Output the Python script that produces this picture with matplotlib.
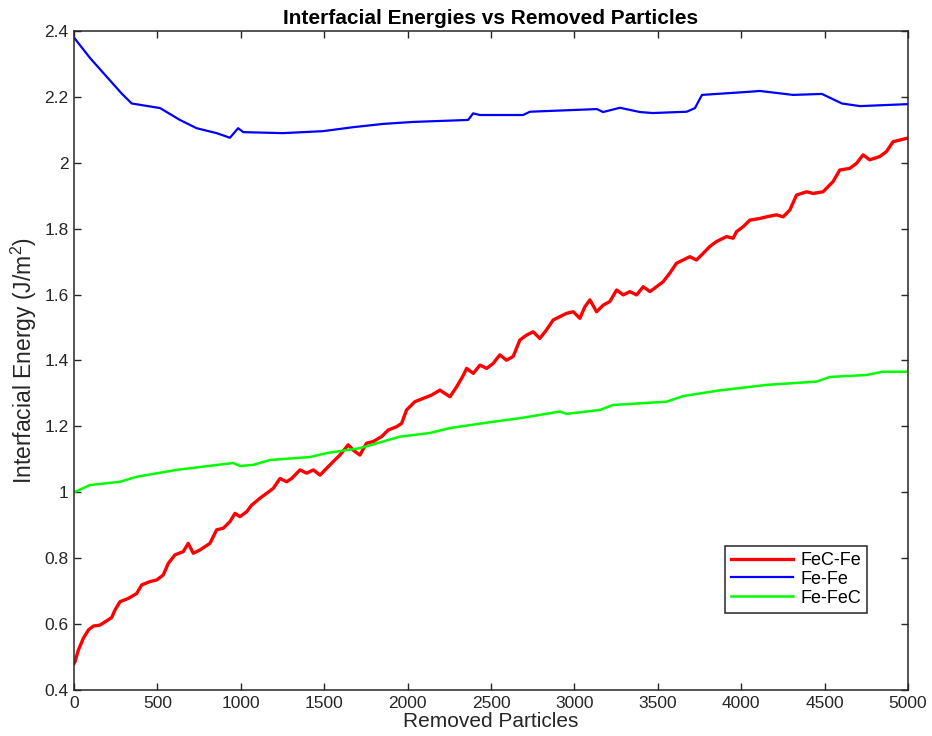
import matplotlib
matplotlib.use("Agg")
import matplotlib.pyplot as plt

plt.rcParams['font.family'] = ['Liberation Sans', 'DejaVu Sans']
plt.rcParams['mathtext.fontset'] = 'custom'
plt.rcParams['mathtext.rm'] = 'Liberation Sans'

# FeC-Fe (red)
fecfe_x = [0, 6, 26, 56, 86, 116, 156, 196, 226, 246, 276, 326, 376, 406, 456, 496, 535,
           565, 605, 655, 685, 715, 755, 785, 815, 855, 895, 915, 935, 965, 995, 1035,
           1065, 1115, 1155, 1195, 1235, 1275, 1305, 1355, 1395, 1435, 1475, 1515, 1554,
           1594, 1644, 1674, 1714, 1754, 1794, 1844, 1884, 1934, 1964, 1994, 2044, 2094,
           2144, 2194, 2254, 2294, 2334, 2354, 2394, 2434, 2474, 2513, 2553, 2593, 2633,
           2673, 2713, 2753, 2793, 2833, 2873, 2913, 2953, 2993, 3033, 3063, 3093, 3133,
           3173, 3213, 3253, 3293, 3333, 3373, 3413, 3453, 3493, 3532, 3572, 3612, 3652,
           3692, 3732, 3772, 3812, 3852, 3912, 3952, 3972, 4012, 4052, 4112, 4152, 4212,
           4252, 4292, 4332, 4392, 4432, 4491, 4551, 4591, 4651, 4691, 4731, 4771, 4831,
           4871, 4911, 4951, 5000]
fecfe_y = [0.48, 0.486, 0.521, 0.557, 0.582, 0.594, 0.597, 0.610, 0.620, 0.643, 0.668,
           0.678, 0.693, 0.719, 0.729, 0.734, 0.749, 0.784, 0.810, 0.820, 0.845, 0.815,
           0.825, 0.835, 0.845, 0.886, 0.891, 0.901, 0.911, 0.936, 0.926, 0.941, 0.961,
           0.982, 0.997, 1.012, 1.042, 1.032, 1.042, 1.068, 1.058, 1.068, 1.052, 1.073,
           1.093, 1.113, 1.144, 1.128, 1.113, 1.149, 1.154, 1.169, 1.189, 1.199, 1.209,
           1.250, 1.275, 1.285, 1.295, 1.310, 1.290, 1.320, 1.355, 1.376, 1.361, 1.386,
           1.376, 1.391, 1.417, 1.401, 1.412, 1.462, 1.477, 1.487, 1.467, 1.493, 1.523,
           1.533, 1.543, 1.548, 1.528, 1.563, 1.584, 1.548, 1.568, 1.579, 1.614, 1.599,
           1.609, 1.599, 1.624, 1.609, 1.624, 1.639, 1.665, 1.695, 1.705, 1.715, 1.705,
           1.725, 1.746, 1.761, 1.776, 1.771, 1.791, 1.806, 1.826, 1.831, 1.836, 1.842,
           1.836, 1.857, 1.902, 1.912, 1.907, 1.912, 1.943, 1.978, 1.983, 1.998, 2.024,
           2.009, 2.019, 2.034, 2.064, 2.069, 2.075]

# Fe-Fe (blue)
fefe_x = [0, 96, 286, 346, 516, 635, 735, 855, 935, 984, 1015, 1253, 1493, 1673, 1853,
          2033, 2363, 2393, 2434, 2692, 2734, 3135, 3172, 3273, 3393, 3471, 3674, 3723,
          3765, 4034, 4112, 4311, 4484, 4604, 4712, 5000]
fefe_y = [2.38, 2.318, 2.21, 2.18, 2.166, 2.13, 2.105, 2.09, 2.076, 2.105, 2.093, 2.09,
          2.096, 2.108, 2.118, 2.124, 2.13, 2.15, 2.145, 2.145, 2.155, 2.163, 2.154,
          2.167, 2.154, 2.151, 2.155, 2.166, 2.206, 2.215, 2.218, 2.206, 2.209, 2.18,
          2.172, 2.178]

# Fe-FeC (green)
fefec_x = [0, 96, 276, 375, 615, 954, 995, 1073, 1175, 1415, 1515, 1715, 1955, 2134,
           2254, 2512, 2674, 2914, 2954, 3154, 3232, 3553, 3652, 3853, 4153, 4453, 4532,
           4752, 4850, 5000]
fefec_y = [1.0, 1.022, 1.032, 1.047, 1.068, 1.089, 1.08, 1.083, 1.098, 1.107, 1.119,
           1.134, 1.169, 1.18, 1.195, 1.214, 1.225, 1.245, 1.238, 1.25, 1.265, 1.275,
           1.292, 1.308, 1.326, 1.336, 1.35, 1.356, 1.366, 1.366]

xticks = [0, 500, 1000, 1500, 2000, 2500, 3000, 3500, 4000, 4500, 5000]
yticks = [0.4, 0.6, 0.8, 1.0, 1.2, 1.4, 1.6, 1.8, 2.0, 2.2, 2.4]
ytick_labels = ['0.4', '0.6', '0.8', '1', '1.2', '1.4', '1.6', '1.8', '2', '2.2', '2.4']

fig = plt.figure(figsize=(9.32, 7.36), dpi=100)
ax = fig.add_axes([0.0794, 0.0625, 0.8948, 0.8954])

ax.plot(fecfe_x, fecfe_y, color='#ff0000', lw=2.4, label='FeC-Fe')
ax.plot(fefe_x, fefe_y, color='#0000ff', lw=1.6, label='Fe-Fe')
ax.plot(fefec_x, fefec_y, color='#00ff00', lw=1.8, label='Fe-FeC')

ax.set_xlim(0, 5000)
ax.set_ylim(0.4, 2.4)
ax.set_xticks(xticks)
ax.set_yticks(yticks)
ax.set_yticklabels(ytick_labels)
ax.tick_params(direction='in', length=5, width=1, top=True, right=True,
               labelsize=12.5, colors='#262626', pad=4)
for s in ax.spines.values():
    s.set_linewidth(1.1)
    s.set_color('#262626')

ax.set_title('Interfacial Energies vs Removed Particles', fontsize=15,
             fontweight='bold', pad=5)
ax.set_xlabel('Removed Particles', fontsize=15, color='#262626', labelpad=1)
ax.set_ylabel('Interfacial Energy (J/m$^{2}$)', fontsize=16.5, color='#262626', labelpad=4)

leg = ax.legend(loc='lower right', bbox_to_anchor=(0.951, 0.117), fontsize=13,
                handlelength=3.4, labelspacing=0.1, borderpad=0.35, borderaxespad=0,
                handletextpad=0.4, fancybox=False, framealpha=1, edgecolor='#262626')
leg.get_frame().set_linewidth(1.1)

fig.savefig('out.png', dpi=100)
